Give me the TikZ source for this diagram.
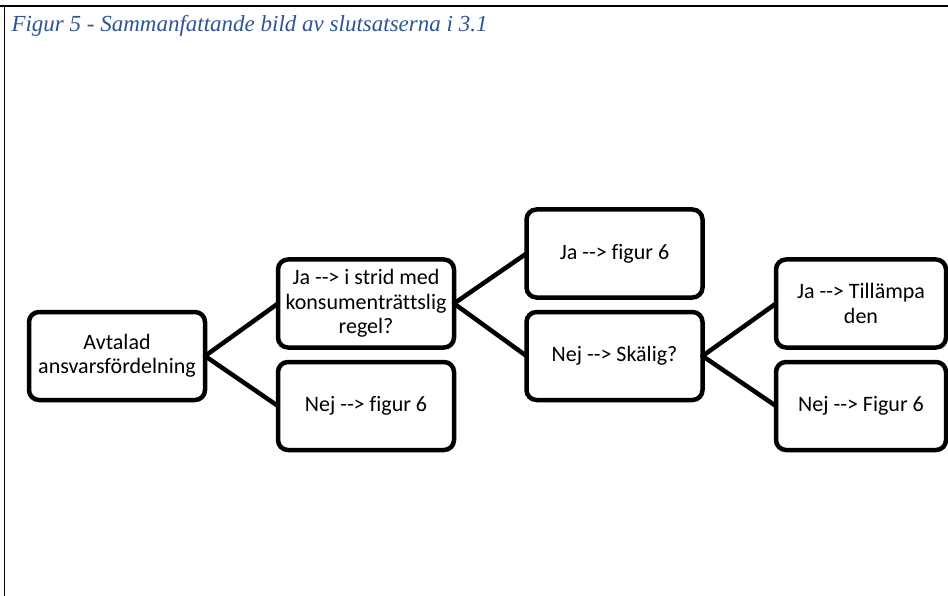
\documentclass[tikz,border=0pt]{standalone}
\usepackage{fontspec}
\newfontfamily\boxfont[Ligatures=NoCommon]{Carlito}
\newfontfamily\capfont{Liberation Serif}
\definecolor{capblue}{HTML}{2F5496}
\tikzset{box/.style={draw, line width=4.5pt, rounded corners=10pt, outer sep=0pt,
  minimum width=176pt, minimum height=88pt, align=center, inner sep=2pt,
  font=\boxfont\fontsize{22}{24.5}\selectfont}}
\tikzset{link/.style={line width=4.5pt, line cap=round}}

\begin{document}
\begin{tikzpicture}[x=1pt,y=-1pt]
\useasboundingbox (0,0) rectangle (948,596);
\draw[line width=2.5pt] (0,6) -- (948,6);
\draw[line width=1pt] (4.5,6) -- (4.5,596);
\node[anchor=base west, text=capblue, font=\capfont\itshape\fontsize{23}{26}\selectfont] (cap) at (8,32) {Figur 5 - Sammanfattande bild av slutsatserna i 3.1};
\node[box] (avtalad) at (117,356) {Avtalad\\ansvarsfördelning};
\node[box] (strid) at (366,303.5) {Ja -{}-> i strid med\\konsumenträttslig\\regel?};
\node[box] (nejfig) at (366,406) {Nej -{}-> figur 6};
\node[box] (jafig) at (614.5,253.5) {Ja -{}-> figur 6};
\node[box] (skalig) at (614.5,356) {Nej -{}-> Skälig?};
\node[box, minimum width=170pt] (tillampa) at (861,303.5) {Ja -{}-> Tillämpa\\den};
\node[box, minimum width=170pt] (nejFig) at (861,406) {Nej -{}-> Figur 6};
\draw[link] (avtalad.east) -- (strid.west);
\draw[link] (avtalad.east) -- (nejfig.west);
\draw[link] (strid.east) -- (jafig.west);
\draw[link] (strid.east) -- (skalig.west);
\draw[link] (skalig.east) -- (tillampa.west);
\draw[link] (skalig.east) -- (nejFig.west);
\end{tikzpicture}
\end{document}
